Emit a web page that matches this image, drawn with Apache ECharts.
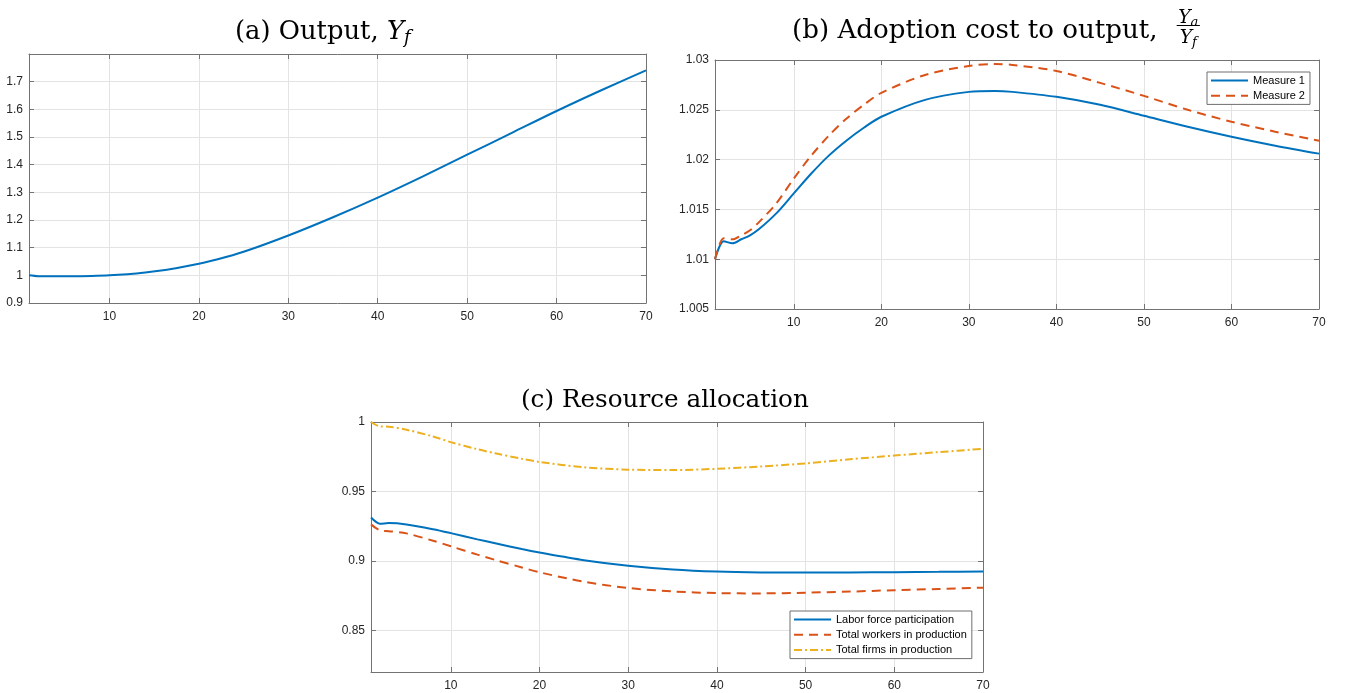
<!DOCTYPE html>
<html><head><meta charset="utf-8">
<script src="https://cdn.jsdelivr.net/npm/echarts@6/dist/echarts.min.js"></script>
<style>html,body{margin:0;padding:0;background:#fff}#c{width:1347px;height:693px}</style>
</head><body><div id="c"></div>
<script>
// ---------- data ----------
// Panel (a) Output, Y_f
const xA = [1,2,4,6,8,10,12,14,16,18,20,22,25,30,35,40,45,50,55,60,65,70];
const outputYf = [1.000,0.997,0.997,0.997,0.998,1.000,1.004,1.010,1.018,1.029,1.042,1.057,1.085,1.144,1.210,1.281,1.357,1.436,1.515,1.594,1.669,1.741];

// Panel (b) Adoption cost to output
const xB = [1,2,3,4,5,6,8,10,12,14,16,18,20,25,30,33,35,40,45,50,55,60,65,70];
const measure1 = [1.0100,1.0118,1.0116,1.0120,1.0124,1.0130,1.0146,1.0166,1.0186,1.0204,1.0219,1.0232,1.0243,1.0260,1.0268,1.0269,1.0268,1.0263,1.0255,1.0244,1.0233,1.0223,1.0214,1.0206];
const measure2 = [1.0100,1.0121,1.0120,1.0124,1.0129,1.0137,1.0156,1.0181,1.0204,1.0224,1.0241,1.0255,1.0267,1.0285,1.0294,1.0296,1.0295,1.0289,1.0277,1.0264,1.0250,1.0238,1.0228,1.0219];

// Panel (c) Resource allocation
const xC = [1,2,3,5,8,10,13,15,18,20,25,30,35,40,45,50,55,60,65,70];
const laborForce  = [0.9312,0.9268,0.9272,0.9262,0.9228,0.9200,0.9155,0.9127,0.9085,0.9060,0.9005,0.8965,0.8938,0.8923,0.8917,0.8916,0.8917,0.8919,0.8921,0.8924];
const workersProd = [0.9263,0.9220,0.9214,0.9198,0.9145,0.9105,0.9045,0.9007,0.8953,0.8918,0.8850,0.8805,0.8780,0.8768,0.8766,0.8771,0.8779,0.8789,0.8798,0.8807];
const firmsProd   = [1.0000,0.9968,0.9966,0.9944,0.9896,0.9855,0.9804,0.9775,0.9735,0.9712,0.9674,0.9657,0.9654,0.9663,0.9680,0.9702,0.9732,0.9758,0.9783,0.9807];

// ticks
const xTicks  = [10,20,30,40,50,60,70];
const yTicksA = [0.9,1.0,1.1,1.2,1.3,1.4,1.5,1.6,1.7];
const yTicksB = [1.005,1.01,1.015,1.02,1.025,1.03];
const yTicksC = [0.85,0.9,0.95,1];

// names
const seriesNamesB = ['Measure 1','Measure 2'];
const seriesNamesC = ['Labor force participation','Total workers in production','Total firms in production'];

// ---------- styling ----------
const BLUE='#0072BD', ORANGE='#D95319', YELLOW='#EDB120';
const AXC='#737373', GRIDC='#e3e3e3', LABC='#262626';
const SANS='"Liberation Sans", Arial, sans-serif';
const FAM='"DejaVu Serif", serif';

const grids = [
  {left:29, top:54, width:617, height:249},
  {left:715, top:60, width:604, height:249},
  {left:371, top:422, width:612, height:250}
];
const fmt = v => String(+(+v).toFixed(4));

const xAxis=[], yAxis=[];
function addAxes(gi, ymin, ymax, yt){
  xAxis.push({type:'value', gridIndex:gi, min:1, max:70, position:'bottom',
    axisLine:{show:true, onZero:false, lineStyle:{color:AXC,width:1}},
    axisTick:{show:true, inside:true, length:5, customValues:xTicks, lineStyle:{color:AXC}},
    axisLabel:{show:true, customValues:xTicks, formatter:fmt, color:LABC, fontFamily:SANS, fontSize:12, margin:8},
    splitLine:{show:true, lineStyle:{color:GRIDC,width:1}}});
  xAxis.push({type:'value', gridIndex:gi, min:1, max:70, position:'top',
    axisLine:{show:true, onZero:false, lineStyle:{color:AXC,width:1}},
    axisTick:{show:true, inside:true, length:5, customValues:xTicks, lineStyle:{color:AXC}},
    axisLabel:{show:false}, splitLine:{show:false}});
  yAxis.push({type:'value', gridIndex:gi, min:ymin, max:ymax, position:'left',
    axisLine:{show:true, onZero:false, lineStyle:{color:AXC,width:1}},
    axisTick:{show:true, inside:true, length:5, customValues:yt, lineStyle:{color:AXC}},
    axisLabel:{show:true, customValues:yt, formatter:fmt, color:LABC, fontFamily:SANS, fontSize:12, margin:6},
    splitLine:{show:true, lineStyle:{color:GRIDC,width:1}}});
  yAxis.push({type:'value', gridIndex:gi, min:ymin, max:ymax, position:'right',
    axisLine:{show:true, onZero:false, lineStyle:{color:AXC,width:1}},
    axisTick:{show:true, inside:true, length:5, customValues:yt, lineStyle:{color:AXC}},
    axisLabel:{show:false}, splitLine:{show:false}});
}
addAxes(0, 0.9, 1.8, yTicksA);
addAxes(1, 1.005, 1.03, yTicksB);
addAxes(2, 0.82, 1.0, yTicksC);

function line(name, xs, ys, ai, color, type){
  return {type:'line', name, xAxisIndex:ai, yAxisIndex:ai,
    data: xs.map((x,i)=>[x, ys[i]]), symbol:'none', smooth:0.3, clip:true,
    lineStyle:{color, width:2, type}, itemStyle:{color}, z:3};
}
const series = [
  line('Output', xA, outputYf, 0, BLUE, 'solid'),
  line(seriesNamesB[0], xB, measure1, 2, BLUE, 'solid'),
  line(seriesNamesB[1], xB, measure2, 2, ORANGE, [9,6]),
  line(seriesNamesC[0], xC, laborForce, 4, BLUE, 'solid'),
  line(seriesNamesC[1], xC, workersProd, 4, ORANGE, [9,6]),
  line(seriesNamesC[2], xC, firmsProd, 4, YELLOW, [8,3,2,3])
];

const legendBase = {orient:'vertical', backgroundColor:'#fff', borderColor:'#6e6e6e', borderWidth:1,
  borderRadius:0, itemWidth:37, itemHeight:14, itemGap:4, padding:[3,5,3,3],
  itemStyle:{opacity:0, borderWidth:0},
  textStyle:{color:'#000', fontFamily:SANS, fontSize:11}, selectedMode:false};
const legend = [
  Object.assign({}, legendBase, {data:seriesNamesB, left:1207, top:72}),
  Object.assign({}, legendBase, {data:seriesNamesC, left:790, top:611})
];

// ---------- titles (text) ----------
const cv = document.createElement('canvas').getContext('2d');
function tw(t, font){ cv.font = font; return cv.measureText(t).width; }
function fit(t, target){ return 24 * target / tw(t, `24px ${FAM}`); }
const Sc = fit('(c) Resource allocation', 288);
const Sb = fit('(b) Adoption cost to output,', 366);
const Sa = fit('(a) Output, ', 152);
function run(parts, x, base){
  const els=[]; let cx=x;
  parts.forEach(p=>{
    const font = `${p.italic?'italic ':''}${p.size}px ${FAM}`;
    els.push({type:'text', x:cx, y:base + (p.dy||0) - 0.17*p.size, silent:true,
      style:{text:p.t, font, fill:'#000', textAlign:'left', textVerticalAlign:'middle'}});
    cx += tw(p.t, font);
  });
  return {els, w:cx-x};
}
const graphic = [];
graphic.push(...run([{t:'(a) Output, ',size:Sa},{t:'Y',size:Sa,italic:true},{t:'f',size:Sa*0.7,italic:true,dy:Sa*0.2}], 235, 36.5).els);
graphic.push(...run([{t:'(c) Resource allocation',size:Sc}], 521, 405).els);
const tB = run([{t:'(b) Adoption cost to output,',size:Sb}], 792, 35.5);
graphic.push(...tB.els);
const F = Sc*0.76;
const fx = 792 + tB.w + 19;
const numParts = [{t:'Y',size:F,italic:true},{t:'a',size:F*0.7,italic:true,dy:F*0.2}];
const denParts = [{t:'Y',size:F,italic:true},{t:'f',size:F*0.7,italic:true,dy:F*0.2}];
const numW = run(numParts,0,0).w, denW = run(denParts,0,0).w;
const fw = Math.max(numW, denW) + 3;
graphic.push(...run(numParts, fx + (fw-numW)/2, 21.5).els);
graphic.push({type:'line', silent:true, shape:{x1:fx, y1:25.5, x2:fx+fw, y2:25.5}, style:{stroke:'#000', lineWidth:1}});
graphic.push(...run(denParts, fx + (fw-denW)/2, 41).els);

const chart = echarts.init(document.getElementById('c'), null, {renderer:'canvas'});
chart.setOption({
  animation:false, backgroundColor:'#fff',
  grid: grids.map(g=>Object.assign({containLabel:false, outerBoundsMode:'none'}, g)),
  xAxis, yAxis, series, legend, graphic
});
</script></body></html>
